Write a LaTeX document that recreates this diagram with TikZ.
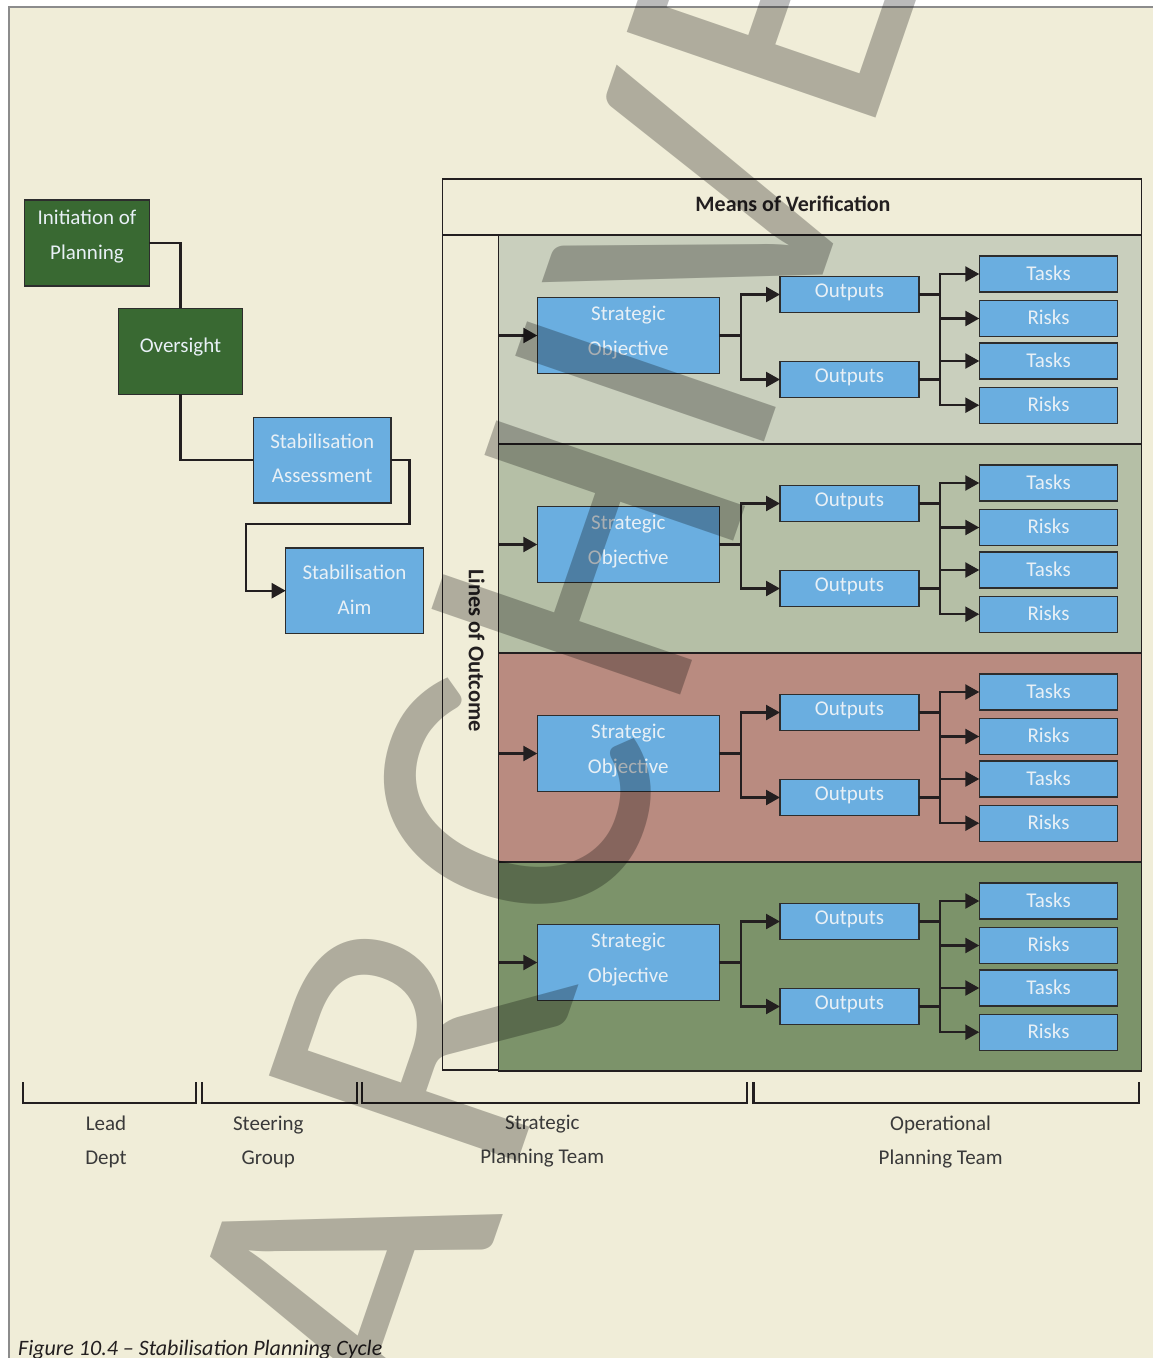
\documentclass[tikz,border=0pt]{standalone}
\usepackage{fontspec}
\setmainfont{Carlito}
\usetikzlibrary{arrows.meta,calc}
\definecolor{cream}{RGB}{240,237,216}
\definecolor{linec}{RGB}{35,31,32}
\definecolor{boxline}{RGB}{45,45,45}
\definecolor{greenb}{RGB}{57,105,50}
\definecolor{blueb}{RGB}{106,174,224}
\definecolor{bandA}{RGB}{201,207,189}
\definecolor{bandB}{RGB}{181,191,166}
\definecolor{bandC}{RGB}{185,139,128}
\definecolor{bandD}{RGB}{124,147,106}
\definecolor{boxtext}{RGB}{232,240,246}
\definecolor{lbltext}{RGB}{58,58,58}
\definecolor{framec}{RGB}{140,140,140}
\newcommand\mkbox[8]{%
  \node[#2, minimum width=#5pt, minimum height=#6pt] (#1) at (#3,#4) {};
  \node[btxt] (#1t) at ($(#1.center)+(0,-#7)$) {#8};
}
\begin{document}
\begin{tikzpicture}[x=1pt,y=-1pt,
  ln/.style={draw=linec, line width=2.4pt},
  arr/.style={ln, -{Triangle[length=14pt,width=15pt]}},
  bx/.style={draw=boxline, line width=1.4pt, inner sep=0pt, outer sep=0pt},
  bluebox/.style={bx, fill=blueb},
  greenbox/.style={bx, fill=greenb},
  btxt/.style={text=boxtext, font=\fontsize{21}{34.5}\selectfont, align=center, inner sep=0pt},
  lbl/.style={text=lbltext, font=\fontsize{21}{34}\selectfont, align=center, inner sep=0pt},
  frm/.style={draw=linec, line width=1.3pt, inner sep=0pt, outer sep=0pt},
  wm/.style={text=black, opacity=0.27, text opacity=0.27, font=\fontsize{410}{410}\selectfont, rotate=71, inner sep=0pt},
]
\useasboundingbox (0,0) rectangle (1153,1358);
\clip (0,0) rectangle (1153,1358);
\fill[white] (0,0) rectangle (1153,1358);
\fill[cream] (9,7) rectangle (1153,1358);
\draw[framec, line width=1.2pt] (9,1358) -- (9,7) -- (1153,7);

% left column
\mkbox{init}{greenbox}{87}{243}{124.6}{86}{6.5}{Initiation of\\Planning}
\mkbox{over}{greenbox}{180.5}{351.3}{124.4}{86}{4}{Oversight}
\mkbox{assess}{bluebox}{322.2}{460.2}{137.7}{85.7}{1.7}{Stabilisation\\Assessment}
\mkbox{aim}{bluebox}{354.5}{590.7}{137.6}{85.3}{1.2}{Stabilisation\\Aim}
\coordinate (c1) at (409.3,524);
\coordinate (c2) at (246,524);
\draw[ln] (init.east) -| (over.north);
\draw[ln] (over.south) |- (assess.west);
\draw[arr] (assess.east) -| (c1) -- (c2) |- (aim.west);

% right frame
\node[frm, fill=cream, minimum width=699.4pt, minimum height=891pt] (mov) at (792,624.5) {};
\node[frm, minimum width=699.4pt, minimum height=56pt] (hdr) at (792,207) {};
\node[font=\bfseries\fontsize{22}{24}\selectfont, text=linec, inner sep=0pt] (hdrt) at (793,203.5) {Means of Verification};
\node[frm, minimum width=56.4pt, minimum height=835pt] (loc) at (470.5,652.5) {};
\node[rotate=-90, font=\bfseries\fontsize{22.5}{24}\selectfont, text=linec, inner sep=0pt] (loct) at (476.7,650.5) {Lines of Outcome};

\foreach \T/\c/\i in {235/bandA/1, 444/bandB/2, 653/bandC/3, 862/bandD/4}{
  \node[frm, fill=\c, minimum width=643pt, minimum height=209pt] (band\i) at (820.2,\T+104.5) {};
  \mkbox{so\i}{bluebox}{628.3}{\T+100.5}{182}{75.6}{3}{Strategic\\Objective}
  \mkbox{oa\i}{bluebox}{849.5}{\T+59.5}{139}{35.6}{2.3}{Outputs}
  \mkbox{ob\i}{bluebox}{849.5}{\T+144.5}{139}{35.6}{2.3}{Outputs}
  \mkbox{ta\i}{bluebox}{1048.5}{\T+39}{138.4}{36}{1}{Tasks}
  \mkbox{ra\i}{bluebox}{1048.5}{\T+83.5}{138.4}{36}{1}{Risks}
  \mkbox{tb\i}{bluebox}{1048.5}{\T+126}{138.4}{36}{1}{Tasks}
  \mkbox{rb\i}{bluebox}{1048.5}{\T+170.2}{138.4}{36}{1}{Risks}
  \coordinate (j\i) at (741,\T+100.5);
  \coordinate (ka\i) at (940,\T+59.5);
  \coordinate (kb\i) at (940,\T+144.5);
  \draw[arr] (band\i.west |- so\i.center) -- (so\i.west);
  \draw[ln] (so\i.east) -- (j\i);
  \draw[arr] (j\i) |- (oa\i.west);
  \draw[arr] (j\i) |- (ob\i.west);
  \draw[ln] (oa\i.east) -- (ka\i);
  \draw[ln] (ob\i.east) -- (kb\i);
  \draw[ln] (ka\i) -- (kb\i);
  \draw[arr] (ka\i) |- (ta\i.west);
  \draw[arr] (ka\i) |- (ra\i.west);
  \draw[arr] (kb\i) |- (tb\i.west);
  \draw[arr] (kb\i) |- (rb\i.west);
}

% brackets
\draw[ln, line width=2.3pt] (23,1082) |- (196,1103) -- (196,1082);
\draw[ln, line width=2.3pt] (201.7,1082) |- (356.7,1103) -- (356.7,1082);
\draw[ln, line width=2.3pt] (362,1082) |- (747,1103) -- (747,1082);
\draw[ln, line width=2.3pt] (753.6,1082) |- (1139,1103) -- (1139,1082);
\node[lbl] (lead) at (106,1141.5) {Lead\\Dept};
\node[lbl] (steer) at (268.3,1141.5) {Steering\\Group};
\node[lbl] (strat) at (542.3,1141.5) {Strategic\\Planning Team};
\node[lbl] (oper) at (940.6,1141.5) {Operational\\Planning Team};
\node[anchor=base west, font=\fontsize{22}{26}\selectfont\itshape, text=linec, inner sep=0pt] (cap) at (18,1355) {Figure 10.4 – Stabilisation Planning Cycle};

% watermark
\foreach \ch/\px/\py in {A/341/1283, R/420/1041, C/512/803, H/589/558, I/646/382, V/704/217, E/775/8}
  \node[wm] (wm\ch) at (\px,\py) {\ch};
\end{tikzpicture}
\end{document}
